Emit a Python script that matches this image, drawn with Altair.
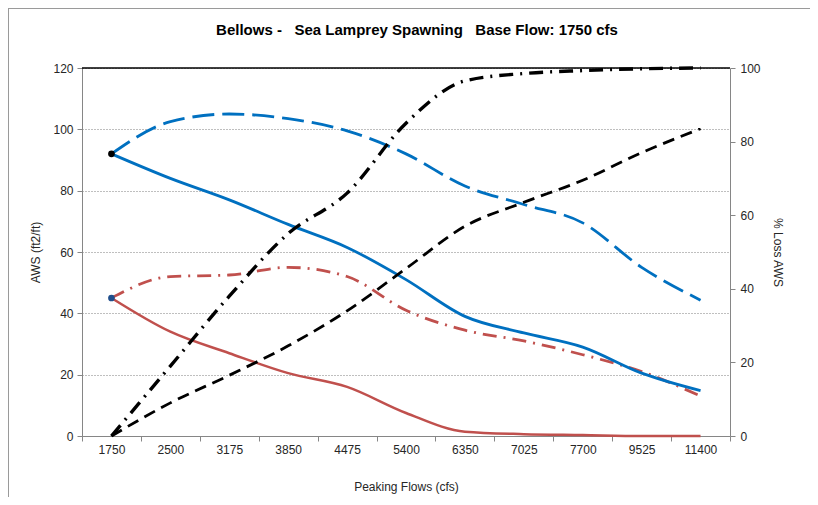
import altair as alt
import pandas as pd

# ---------------- data ----------------
flows = ["1750", "2500", "3175", "3850", "4475", "5400", "6350", "7025", "7700", "9525", "11400"]

# left axis: AWS (ft2/ft)
aws_blue_solid = [92, 84, 77, 69, 61.5, 51, 39, 33.6, 29, 20.5, 14.8]
aws_blue_dash = [92, 102.5, 105, 103.5, 99.5, 92, 81.5, 75.5, 69.5, 55, 44.3]
aws_red_solid = [45, 34, 27, 20.5, 16, 7.5, 1.4, 0.6, 0.3, 0, 0]
aws_red_dashdot = [45, 52, 52.5, 55, 52, 41, 34.5, 31, 26.5, 21, 13]

# right axis: % Loss AWS
loss_black_dashdot = [0, 19, 38, 55, 66, 85, 96.5, 98.5, 99.3, 99.8, 100]
loss_black_dash = [0, 9, 16.5, 24.5, 34, 45.5, 57, 63.5, 69.5, 77, 83.5]

left_ticks = [0, 20, 40, 60, 80, 100, 120]
right_ticks = [0, 20, 40, 60, 80, 100]

FONT = "Liberation Sans"
AX_GRAY = "#868686"
BLUE = "#0070C0"
RED = "#C0504D"

x_enc = alt.X(
    "flow:N",
    sort=flows,
    scale=alt.Scale(type="band", paddingInner=0, paddingOuter=0),
    bandPosition=0.5,
    axis=alt.Axis(
        title="Peaking Flows (cfs)", labelAngle=0, tickBand="extent",
        domainColor=AX_GRAY, tickColor=AX_GRAY, tickSize=5,
        labelPadding=3, titlePadding=26, grid=False,
    ),
)

yl = alt.Y(
    "value:Q",
    scale=alt.Scale(domain=[0, 120], nice=False, zero=True),
    axis=alt.Axis(
        title="AWS (ft2/ft)", orient="left", values=left_ticks,
        grid=True, gridDash=[1, 2], gridColor="#7f7f7f", gridWidth=1,
        domainColor=AX_GRAY, tickColor=AX_GRAY, tickSize=5,
        labelPadding=4, titlePadding=10,
    ),
)

yr = alt.Y(
    "value:Q",
    scale=alt.Scale(domain=[0, 100], nice=False, zero=True),
    axis=alt.Axis(
        title="% Loss AWS", orient="right", values=right_ticks, grid=False,
        domainColor=AX_GRAY, tickColor=AX_GRAY, tickSize=5,
        labelPadding=5, titlePadding=10, titleAngle=90,
    ),
)


def line(vals, y, color, width, dash=None):
    df = pd.DataFrame({"flow": flows, "value": vals})
    kw = dict(color=color, strokeWidth=width, interpolate="monotone")
    if dash:
        kw["strokeDash"] = dash
    return alt.Chart(df).mark_line(**kw).encode(x=x_enc, y=y)


def marker(val, color):
    df = pd.DataFrame({"flow": [flows[0]], "value": [val]})
    return alt.Chart(df).mark_point(filled=True, size=45, color=color, opacity=1).encode(x=x_enc, y=yl)


top_rule = alt.Chart(pd.DataFrame({"value": [left_ticks[-1]]})).mark_rule(
    color="black", strokeWidth=1.5
).encode(y=yl)

left = alt.layer(
    line(aws_red_solid, yl, RED, 2.5),
    line(aws_red_dashdot, yl, RED, 2.8, [14, 7, 2, 7]),
    line(aws_blue_solid, yl, BLUE, 2.8),
    line(aws_blue_dash, yl, BLUE, 2.8, [22, 8]),
    top_rule,
    marker(aws_blue_solid[0], "black"),
    marker(aws_red_solid[0], "#1F4E8C"),
)

right = alt.layer(
    line(loss_black_dash, yr, "black", 2.8, [12, 7]),
    line(loss_black_dashdot, yr, "black", 3.4, [14, 7, 2, 7]),
)

frame_df = pd.DataFrame({"k": [0]})
frame_left = alt.Chart(frame_df).mark_rule(color="#9a9a9a", strokeWidth=1).encode(
    x=alt.value(-73.5), y=alt.value(-60), y2=alt.value(437)
)
frame_top = alt.Chart(frame_df).mark_rule(color="#9a9a9a", strokeWidth=1).encode(
    x=alt.value(-74), x2=alt.value(728), y=alt.value(-59.5)
)

chart = (
    alt.layer(left, right, frame_left, frame_top)
    .resolve_scale(y="independent")
    .properties(
        width=648,
        height=368,
        autosize=alt.AutoSizeParams(type="none"),
        padding={"left": 74, "top": 60, "right": 80, "bottom": 61},
        title=alt.TitleParams(
            text="Bellows -\u00a0\u00a0 Sea Lamprey Spawning\u00a0\u00a0 Base Flow: 1750 cfs",
            fontSize=15, fontWeight="bold", font=FONT, anchor="middle",
            dx=11, dy=52, offset=22, color="black",
        ),
    )
    .configure(font=FONT)
    .configure_view(strokeWidth=0)
    .configure_axis(
        labelFont=FONT, titleFont=FONT, labelFontSize=12, titleFontSize=12,
        labelColor="#262626", titleColor="#262626", titleFontWeight="normal",
    )
)

chart.save("out.html", embed_options={"renderer": "svg", "actions": False})
